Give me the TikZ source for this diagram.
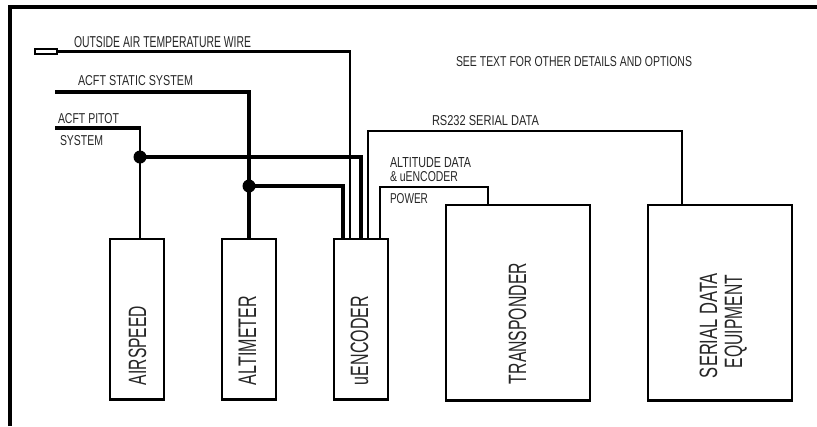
\documentclass[tikz,border=0pt]{standalone}
\usepackage{graphicx}
\usepackage{fontspec}
\setmainfont{Liberation Sans}
\newcommand{\lbl}[3]{\resizebox{#1\dimexpr0.75pt\relax}{#2\dimexpr0.75pt\relax}{#3}}
\tikzset{
  lab/.style={anchor=base west,inner sep=0pt,outer sep=0pt,text=black!85},
  rlab/.style={anchor=base west,inner sep=0pt,outer sep=0pt,rotate=90,text=black!85},
  box/.style={draw=black,line width=2.2pt,inner sep=0pt,outer sep=0pt},
  thinw/.style={draw=black,line width=1.7pt,line join=miter},
  thickw/.style={draw=black,line width=3.2pt,line join=miter},
  dot/.style={circle,fill=black,inner sep=0pt,minimum size=9.75pt}
}
\begin{document}
\begin{tikzpicture}[x=0.75pt,y=-0.75pt]
\useasboundingbox (0,0) rectangle (817,426);
\draw[draw=black,line width=3pt] (10,426) -- (10,7) -- (817,7);
% boxes
\node[box,minimum width=40.5pt,minimum height=120.5pt,anchor=north west] (air) at (110,239) {};
\node[box,minimum width=40.5pt,minimum height=120.5pt,anchor=north west] (alt) at (222,239) {};
\node[box,minimum width=40.5pt,minimum height=120.5pt,anchor=north west] (enc) at (334,239) {};
\node[box,minimum width=108pt,minimum height=146.5pt,anchor=north west] (xpd) at (446,205) {};
\node[box,minimum width=108pt,minimum height=146.5pt,anchor=north west] (ser) at (648,205) {};
\node[draw=black,line width=1.5pt,inner sep=0pt,minimum width=16.5pt,minimum height=4pt,anchor=west] (oat) at (34,51.5) {};
% junctions
\node[dot] (j1) at (140,157) {};
\node[dot] (j2) at (249,186) {};
% free ends
\coordinate (st) at (55,92);
\coordinate (pt) at (55,128);
% wires
\draw[thinw] (oat.east) -- (350,51.5) -- (350,239);
\draw[thickw] (st) -- (249,92) -- (249,239);
\draw[draw=black,line width=2.6pt] (pt) -- (141,128);
\draw[thinw] (140,128) -- (j1.center) -- (140,239);
\draw[thickw] (j1.center) -- (361,157) -- (361,239);
\draw[thickw] (j2.center) -- (343,186) -- (343,239);
\draw[thinw] (368,239) -- (368,131) -- (682,131) -- (682,205);
\draw[thinw] (380,239) -- (380,187) -- (488,187) -- (488,205);
% labels
\node[lab] (l1) at (74,47) {\lbl{177}{11}{OUTSIDE AIR TEMPERATURE WIRE}};
\node[lab] (l2) at (78,85) {\lbl{115}{10}{ACFT STATIC SYSTEM}};
\node[lab] (l3) at (58,123) {\lbl{61}{10}{ACFT PITOT}};
\node[lab] (l4) at (60,145) {\lbl{43}{10}{SYSTEM}};
\node[lab] (l5) at (432,125) {\lbl{107}{10}{RS232 SERIAL DATA}};
\node[lab] (l6) at (390,167) {\lbl{81}{10}{ALTITUDE DATA}};
\node[lab] (l7) at (390,181) {\lbl{68}{10}{\& uENCODER}};
\node[lab] (l8) at (390,203) {\lbl{38}{10}{POWER}};
\node[lab] (l9) at (456,66) {\lbl{236}{10}{SEE TEXT FOR OTHER DETAILS AND OPTIONS}};
\node[rlab] (r1) at (146,385) {\lbl{79}{17.5}{AIRSPEED}};
\node[rlab] (r2) at (256,385) {\lbl{89}{17.5}{ALTIMETER}};
\node[rlab] (r3) at (368,385) {\lbl{89}{17.5}{uENCODER}};
\node[rlab] (r4) at (526,384) {\lbl{121}{17.5}{TRANSPONDER}};
\node[rlab] (r5) at (717,378) {\lbl{105}{17.5}{SERIAL DATA}};
\node[rlab] (r6) at (742,368) {\lbl{93}{17.5}{EQUIPMENT}};
\end{tikzpicture}
\end{document}
